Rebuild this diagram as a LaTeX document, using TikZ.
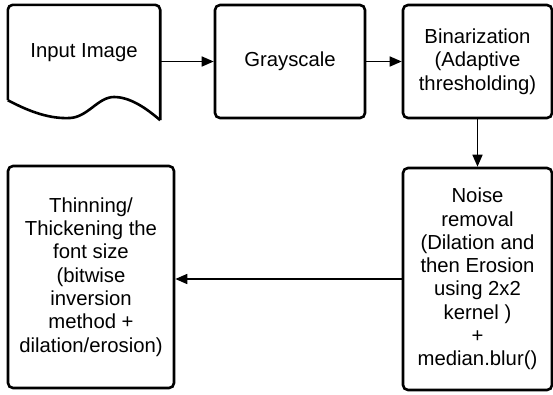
\documentclass[tikz,border=0pt]{standalone}
\usepackage{fontspec}
\setmainfont{Liberation Sans}
\usetikzlibrary{arrows.meta}
\tikzset{
  x=1pt, y=-1pt,
  stepbox/.style={draw=black, line width=2.6pt, rounded corners=5pt, align=center,
    inner sep=0pt, font=\fontsize{20.3}{23.3}\selectfont},
  docbox/.style={inner sep=0pt, align=center, font=\fontsize{20.3}{23.3}\selectfont},
  outline/.style={draw=black, line width=2.6pt},
  flow/.style={draw=black, line width=1.6pt, -{Triangle[length=12pt,width=10pt]}}
}
\begin{document}
\begin{tikzpicture}
\useasboundingbox (0,0) rectangle (553,394);
% document-shaped input box: the node covers the straight part above the wave
\node[docbox, minimum width=152pt, minimum height=95pt] (inp) at (84,52.5) {Input Image};
\coordinate (inpcorner) at ([yshift=-20pt]inp.south east);
\draw[outline, rounded corners=5pt] (inp.south west) -- (inp.north west) -- (inp.north east) -- (inpcorner);
\draw[outline, line join=round] (inp.south west)
  .. controls (30,112) and (50,119) .. (70,118)
  .. controls (88,117) and (98,97) .. (114,97)
  .. controls (130,97) and (146,108) .. (inpcorner);
% process boxes
\node[stepbox, minimum width=150pt, minimum height=113pt] (gray) at (290,61.5) {Grayscale};
\node[stepbox, minimum width=149pt, minimum height=113pt] (bin) at (477.5,61.5)
  {Binarization\\(Adaptive\\thresholding)};
\node[stepbox, minimum width=149pt, minimum height=222pt] (noise) at (477.5,279)
  {Noise\\removal\\(Dilation and\\then Erosion\\using 2x2\\kernel )\\+\\median.blur()};
\node[stepbox, minimum width=166pt, minimum height=222pt] (thin) at (91,277)
  {Thinning/\\Thickening the\\font size\\(bitwise\\inversion\\method +\\dilation/erosion)};
% connectors
\draw[flow] (inp.east |- gray.west) -- (gray.west);
\draw[flow] (gray.east) -- (bin.west);
\draw[flow] (bin.south) -- (noise.north);
\draw[flow] (noise.west) -- (thin.east |- noise.west);
\end{tikzpicture}
\end{document}
